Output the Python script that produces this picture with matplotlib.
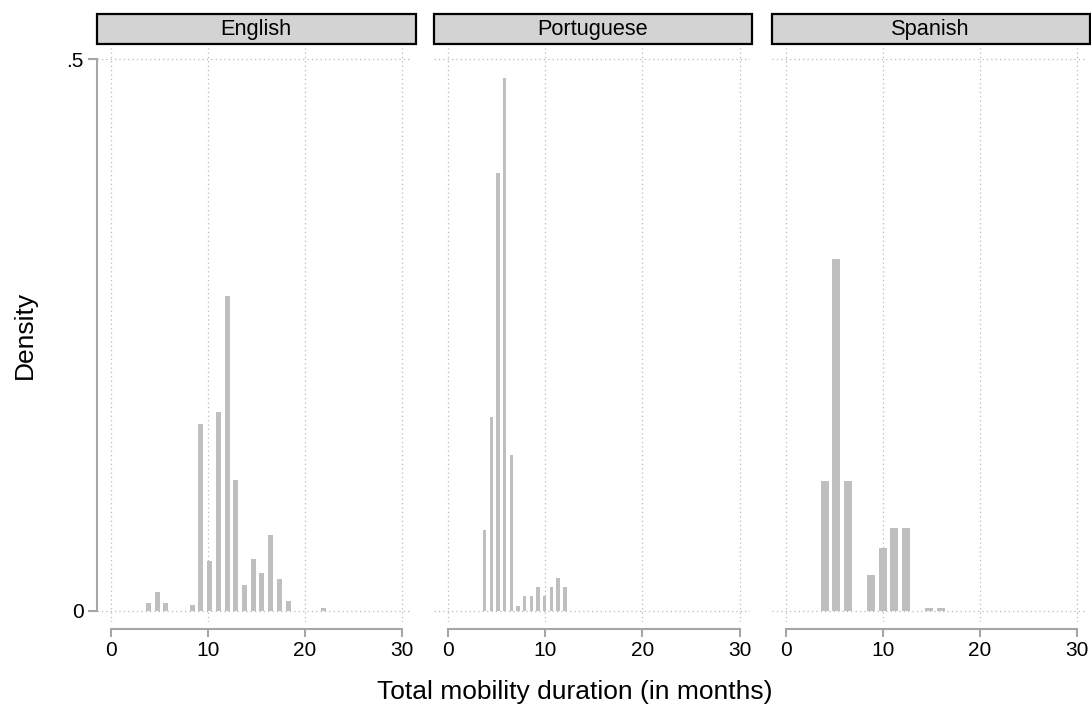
import numpy as np
import matplotlib.pyplot as plt
from matplotlib.patches import Rectangle

plt.rcParams['font.family'] = ['Liberation Sans', 'DejaVu Sans']

# Panel titles
languages = ['English', 'Portuguese', 'Spanish']

# Histogram bins (centres, months) and densities
english_bins = [3.85, 4.76, 5.65, 8.4, 9.26, 10.15, 11.08, 11.98, 12.87,
                13.76, 14.66, 15.55, 16.48, 17.37, 18.27, 21.9]
english_density = [0.0072, 0.0176, 0.0072, 0.0058, 0.169, 0.0457, 0.180, 0.285,
                   0.119, 0.0236, 0.047, 0.034, 0.069, 0.029, 0.0088, 0.003]

portuguese_bins = [3.72, 4.41, 5.1, 5.79, 6.48, 7.17, 7.86, 8.55, 9.24, 9.93,
                   10.6, 11.3, 12.0]
portuguese_density = [0.073, 0.176, 0.397, 0.483, 0.141, 0.0045, 0.0133, 0.0133,
                      0.0217, 0.0133, 0.0217, 0.030, 0.0217]

spanish_bins = [3.99, 5.19, 6.39, 8.8, 10.0, 11.17, 12.37, 14.77, 15.98]
spanish_density = [0.118, 0.3185, 0.118, 0.033, 0.057, 0.0755, 0.0755, 0.0024, 0.0024]

x_ticks = [0, 10, 20, 30]
y_ticks = [0, 0.5]
y_tick_labels = ['0', '.5']

panels = [(english_bins, english_density, 0.52),
          (portuguese_bins, portuguese_density, 0.34),
          (spanish_bins, spanish_density, 0.82)]

W, H = 1091, 707
fig = plt.figure(figsize=(W / 100, H / 100), dpi=100)

bar_color = '#bfbfbf'
spine_color = '#a6a6a6'
grid_color = '#b8b8b8'

lefts = [97, 434.5, 772]
ax_w = 315
ax_top, ax_bot = 48, 622

for i, (bins, dens, bw) in enumerate(panels):
    ax = fig.add_axes([lefts[i] / W, 1 - ax_bot / H, ax_w / W, (ax_bot - ax_top) / H])
    ax.bar(bins, dens, width=bw, color=bar_color, edgecolor='none', zorder=2)
    ax.set_xlim(-1.44, 31.03)
    ax.set_ylim(-0.01, 0.51)

    for xv in x_ticks:
        ax.axvline(xv, color=grid_color, lw=0.9, ls=(0, (1, 2.5)), zorder=1)
    for yv in y_ticks:
        ax.axhline(yv, color=grid_color, lw=0.9, ls=(0, (1, 2.5)), zorder=1)

    for s in ['top', 'right']:
        ax.spines[s].set_visible(False)
    ax.spines['bottom'].set_bounds(0, 30)
    ax.spines['bottom'].set_position(('outward', 5))
    ax.spines['bottom'].set_color(spine_color)
    ax.spines['bottom'].set_linewidth(1.5)
    ax.set_xticks(x_ticks)
    ax.tick_params(axis='x', direction='out', length=6, width=1.5, color=spine_color,
                   labelsize=15, pad=2.5)

    if i == 0:
        ax.spines['left'].set_bounds(0, 0.5)
        ax.spines['left'].set_color(spine_color)
        ax.spines['left'].set_linewidth(1.5)
        ax.set_yticks(y_ticks)
        ax.set_yticklabels(y_tick_labels)
        ax.tick_params(axis='y', direction='out', length=6.5, width=1.5, color=spine_color,
                       labelsize=15, pad=3)
        ax.set_ylabel('Density', fontsize=19, labelpad=21)
    else:
        ax.spines['left'].set_visible(False)
        ax.set_yticks([])

    # strip header
    hx0 = lefts[i] - 0.5
    hw = 319 if i == 0 else 318
    fig.add_artist(Rectangle((hx0 / W, 1 - 44 / H), hw / W, 30 / H,
                             transform=fig.transFigure, facecolor='#d3d3d3',
                             edgecolor='black', lw=1.6))
    fig.text((hx0 + hw / 2) / W, 1 - 29.5 / H, languages[i], fontsize=15.7,
             ha='center', va='center')

fig.text(575 / W, 1 - 692 / H, 'Total mobility duration (in months)', fontsize=19,
         ha='center', va='center')

fig.savefig('out.png', dpi=100)
